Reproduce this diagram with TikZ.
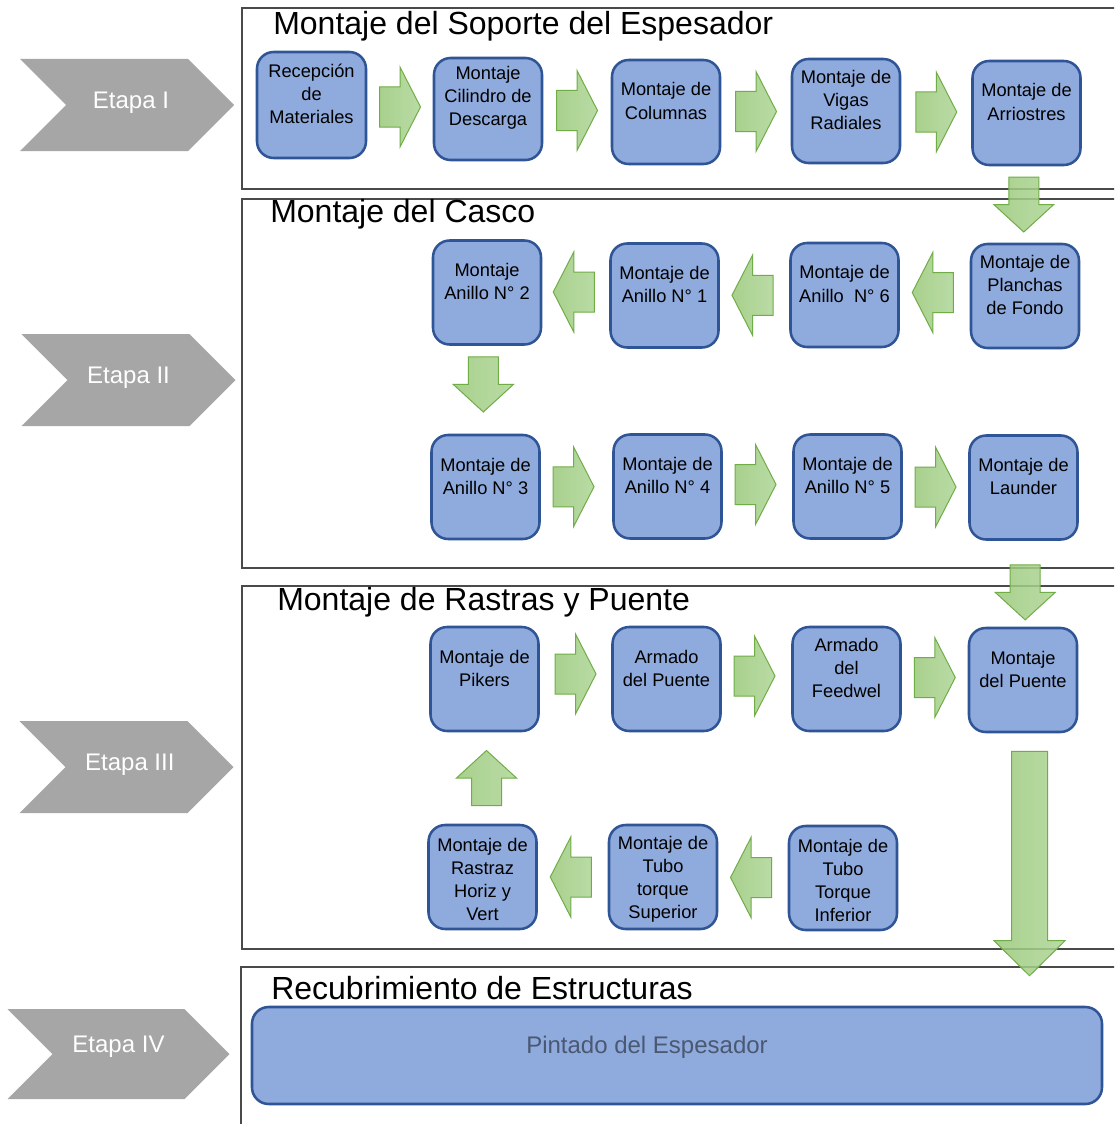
\documentclass[tikz,border=0pt]{standalone}
\usepackage{fontspec}
\setmainfont{Liberation Sans}
\usetikzlibrary{calc,shapes.symbols}

\definecolor{boxfill}{HTML}{8FAADC}
\definecolor{boxline}{HTML}{2F5597}
\definecolor{arrL}{HTML}{9AC97A}
\definecolor{arrR}{HTML}{AED596}
\definecolor{arrline}{HTML}{70AD47}
\definecolor{chevgray}{HTML}{A6A6A6}
\definecolor{frameline}{HTML}{4A4A4A}
\definecolor{painttxt}{HTML}{4A5872}

\begin{document}
\begin{tikzpicture}[x=0.75pt,y=-0.75pt,
  frame/.style={draw=frameline, line width=1.1pt},
  title/.style={font=\fontsize{24}{28}\selectfont, inner sep=0pt, anchor=base west},
  box/.style={draw=boxline, fill=boxfill, line width=1.9pt, rounded corners=12.5pt,
    minimum width=81pt, minimum height=78pt, inner sep=0pt},
  btxt/.style={font=\fontsize{13.7}{17.3}\selectfont, align=center, inner sep=0pt, yshift=8.25pt},
  btxtc/.style={font=\fontsize{13.7}{17.3}\selectfont, align=center, inner sep=0pt, yshift=-1.8pt},
  chev/.style={shape=signal, signal to=east, signal from=west, signal pointer angle=90,
    fill=chevgray, draw=none, minimum width=160.5pt, minimum height=69pt, inner sep=0pt},
  ctxt/.style={font=\fontsize{18}{21}\selectfont, text=white, inner sep=0pt, yshift=1.8pt},
  barrow/.style={draw=arrline, line width=0.75pt, left color=arrL, right color=arrR,
    fill opacity=0.85, line join=miter},
  rarr/.pic={\path[barrow] (-20.5,-20) -- (0,-20) -- (0,-40) -- (20.5,0) -- (0,40) -- (0,20) -- (-20.5,20) -- cycle;},
  larr/.pic={\path[barrow] (20.5,-20) -- (0,-20) -- (0,-40) -- (-20.5,0) -- (0,40) -- (0,20) -- (20.5,20) -- cycle;},
  darr/.pic={\path[barrow] (-15,-27.5) -- (15,-27.5) -- (15,0) -- (30,0) -- (0,27.5) -- (-30,0) -- (-15,0) -- cycle;},
  uarr/.pic={\path[barrow] (-15,27.5) -- (15,27.5) -- (15,0) -- (30,0) -- (0,-27.5) -- (-30,0) -- (-15,0) -- cycle;}
]
\clip (0,0) rectangle (1114,1124);
\fill[white] (0,0) rectangle (1114,1124);

% section frames, open on the right
\draw[frame] (1120,8) -- (242,8) -- (242,189) -- (1120,189);
\draw[frame] (1120,199) -- (242,199) -- (242,568) -- (1120,568);
\draw[frame] (1120,586) -- (242,586) -- (242,949) -- (1120,949);
\draw[frame] (1120,967) -- (241,967) -- (241,1130);

% section titles
\node[title] (t1) at (273,35) {Montaje del Soporte del Espesador};
\node[title] (t2) at (270,222) {Montaje del Casco};
\node[title] (t3) at (277,610) {Montaje de Rastras y Puente};
\node[title] (t4) at (271,999) {Recubrimiento de Estructuras};

% stage chevrons
\node[chev] (e1) at (127,105) {};
\node[ctxt, xshift=3pt] at (e1.center) (e1t) {Etapa I};
\node[chev] (e2) at (128.5,380) {};
\node[ctxt] at (e2.center) (e2t) {Etapa II};
\node[chev] (e3) at (126.5,767) {};
\node[ctxt, xshift=2.5pt] at (e3.center) (e3t) {Etapa III};
\node[chev, minimum width=166.5pt, minimum height=67.5pt] (e4) at (118.5,1054) {};
\node[ctxt, yshift=3.4pt] at (e4.center) (e4t) {Etapa IV};

% stage I
\node[box, minimum width=81.75pt, minimum height=79.5pt, label={[btxt]center:Recepción\\de\\Materiales}] (b11) at (311.5,105) {};
\node[box, minimum height=76.5pt, label={[btxt]center:Montaje\\Cilindro de\\Descarga}] (b12) at (488,109) {};
\node[box, label={[btxt]center:Montaje de\\Columnas}] (b13) at (666,112) {};
\node[box, label={[btxt]center:Montaje de\\Vigas\\Radiales}] (b14) at (846,111) {};
\node[box, label={[btxt]center:Montaje de\\Arriostres}] (b15) at (1026.5,113) {};

% stage II
\node[box, label={[btxt]center:Montaje de\\Planchas\\de Fondo}] (b21) at (1025,296) {};
\node[box, label={[btxt]center:Montaje de\\Anillo\ \ N° 6}] (b22) at (844.5,295) {};
\node[box, label={[btxt]center:Montaje de\\Anillo N° 1}] (b23) at (664.5,295.5) {};
\node[box, label={[btxt]center:Montaje\\Anillo N° 2}] (b24) at (487,292.5) {};
\node[box, label={[btxt]center:Montaje de\\Anillo N° 3}] (b25) at (485.5,487) {};
\node[box, label={[btxt]center:Montaje de\\Anillo N° 4}] (b26) at (667.5,486.5) {};
\node[box, label={[btxt]center:Montaje de\\Anillo N° 5}] (b27) at (847.5,486.5) {};
\node[box, label={[btxt]center:Montaje de\\Launder}] (b28) at (1023.5,487.5) {};

% stage III
\node[box, label={[btxt]center:Montaje de\\Pikers}] (b31) at (484.5,679) {};
\node[box, label={[btxt]center:Armado\\del Puente}] (b32) at (666.5,679) {};
\node[box, label={[btxt]center:Armado\\del\\Feedwel}] (b33) at (846.5,679) {};
\node[box, label={[btxt]center:Montaje\\del Puente}] (b34) at (1023,680) {};
\node[box, label={[btxtc]center:Montaje de\\Tubo\\Torque\\Inferior}] (b35) at (843,878) {};
\node[box, label={[btxtc]center:Montaje de\\Tubo\\torque\\Superior}] (b36) at (663,877) {};
\node[box, label={[btxtc]center:Montaje de\\Rastraz\\Horiz y\\Vert}] (b37) at (482.5,877) {};

% stage IV
\node[box, minimum width=637.5pt, minimum height=72.75pt,
  label={[font=\fontsize{18}{21}\selectfont, text=painttxt, inner sep=0pt, xshift=-22.5pt, yshift=6pt]center:Pintado del Espesador}] (b41) at (677,1055.5) {};

% block arrows, stage I
\pic at ($(b11.east)!0.5!(b12.west)$) {rarr};
\pic at ($(b12.east)!0.5!(b13.west)$) {rarr};
\pic at ($(b13.east)!0.5!(b14.west)$) {rarr};
\pic at ($(b14.east)!0.5!(b15.west)$) {rarr};
\pic at ($(b15.south)!0.5!(b21.north)+(-2,0)$) {darr};

% block arrows, stage II
\pic at ($(b21.west)!0.5!(b22.east)+(-2,-3)$) {larr};
\pic at ($(b22.west)!0.5!(b23.east)+(-2,0)$) {larr};
\pic at ($(b23.west)!0.5!(b24.east)+(-2,-2)$) {larr};
\pic at ($(b24.south)!0.44!(b25.north)+(-3,0)$) {darr};
\pic at ($(b25.east)!0.5!(b26.west)+(-3,0)$) {rarr};
\pic at ($(b26.east)!0.5!(b27.west)+(-2,-2)$) {rarr};
\pic at ($(b27.east)!0.5!(b28.west)$) {rarr};
\pic at ($(b28.south)!0.6!(b34.north)+(2,0)$) {darr};

% block arrows, stage III
\pic at ($(b31.east)!0.5!(b32.west)+(0,-5)$) {rarr};
\pic at ($(b32.east)!0.5!(b33.west)+(-2,-3)$) {rarr};
\pic at ($(b33.east)!0.5!(b34.west)+(0,-2)$) {rarr};
\pic at ($(b35.west)!0.5!(b36.east)+(-2,0)$) {larr};
\pic at ($(b36.west)!0.5!(b37.east)+(-2,0)$) {larr};
\pic at ($(b37.north)!0.5!(b31.south)+(3,0)$) {uarr};

% long arrow down to the coating stage
\coordinate (lt) at ($(b34.south)+(6.5,18)$);
\coordinate (lb) at ($(lt |- b41.north)+(0,-30)$);
\path[barrow] ($(lt)+(-18,0)$) -- ($(lt)+(18,0)$) -- ($(lb)+(18,-35)$) -- ($(lb)+(35.5,-35)$)
  -- (lb) -- ($(lb)+(-35.5,-35)$) -- ($(lb)+(-18,-35)$) -- cycle;
\end{tikzpicture}
\end{document}
